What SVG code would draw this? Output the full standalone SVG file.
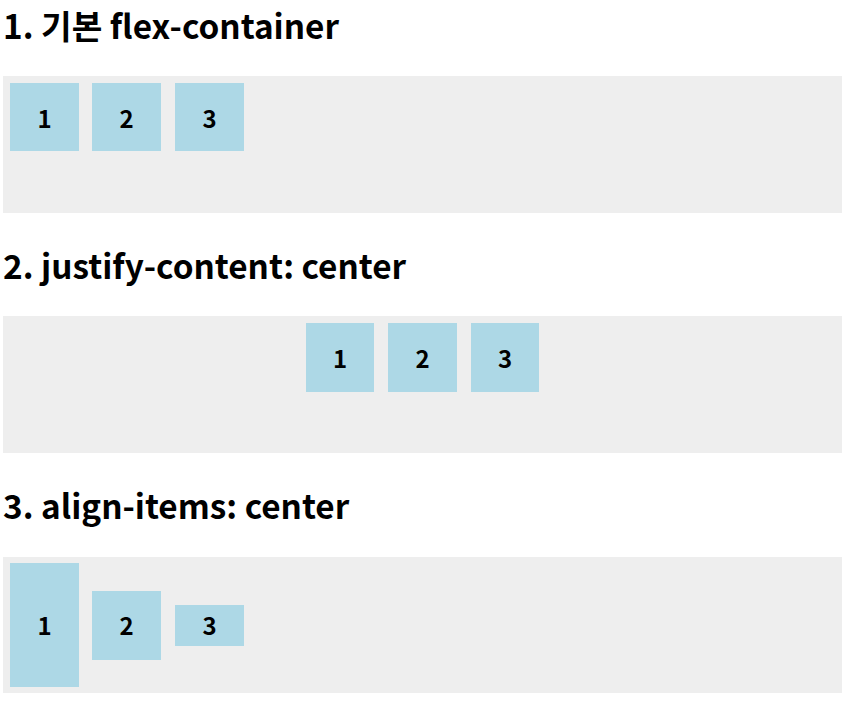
<svg xmlns="http://www.w3.org/2000/svg" width="849" height="701" viewBox="0 0 849 701">
<style>
.h{font-family:"Noto Sans CJK KR","Noto Sans",sans-serif;font-weight:700;font-size:33.3px;fill:#000}
.c{fill:#eeeeee}
.b{fill:#add8e6}
.n{font-family:"Noto Sans CJK KR","Noto Sans",sans-serif;font-weight:700;font-size:24px;fill:#000;text-anchor:middle}
</style>
<rect width="849" height="701" fill="#fff"/>
<g id="section1">
<text class="h" x="3" y="39">1. 기본 flex-container</text>
<rect class="c" x="3" y="76" width="839" height="137"/>
<g id="s1-item1"><rect class="b" x="10" y="83" width="69" height="68"/><text class="n" x="44.5" y="127.5">1</text></g>
<g id="s1-item2"><rect class="b" x="92" y="83" width="69" height="68"/><text class="n" x="126.5" y="127.5">2</text></g>
<g id="s1-item3"><rect class="b" x="175" y="83" width="69" height="68"/><text class="n" x="209.5" y="127.5">3</text></g>
</g>
<g id="section2">
<text class="h" x="3" y="279">2. justify-content: center</text>
<rect class="c" x="3" y="316" width="839" height="137"/>
<g id="s2-item1"><rect class="b" x="306" y="323" width="68" height="69"/><text class="n" x="340" y="368">1</text></g>
<g id="s2-item2"><rect class="b" x="388" y="323" width="69" height="69"/><text class="n" x="422.5" y="368">2</text></g>
<g id="s2-item3"><rect class="b" x="471" y="323" width="68" height="69"/><text class="n" x="505" y="368">3</text></g>
</g>
<g id="section3">
<text class="h" x="3" y="519">3. align-items: center</text>
<rect class="c" x="3" y="557" width="839" height="136"/>
<g id="s3-item1"><rect class="b" x="10" y="563" width="69" height="124"/><text class="n" x="44.5" y="635">1</text></g>
<g id="s3-item2"><rect class="b" x="92" y="591" width="69" height="69"/><text class="n" x="126.5" y="635">2</text></g>
<g id="s3-item3"><rect class="b" x="175" y="605" width="69" height="41"/><text class="n" x="209.5" y="635">3</text></g>
</g>
</svg>
